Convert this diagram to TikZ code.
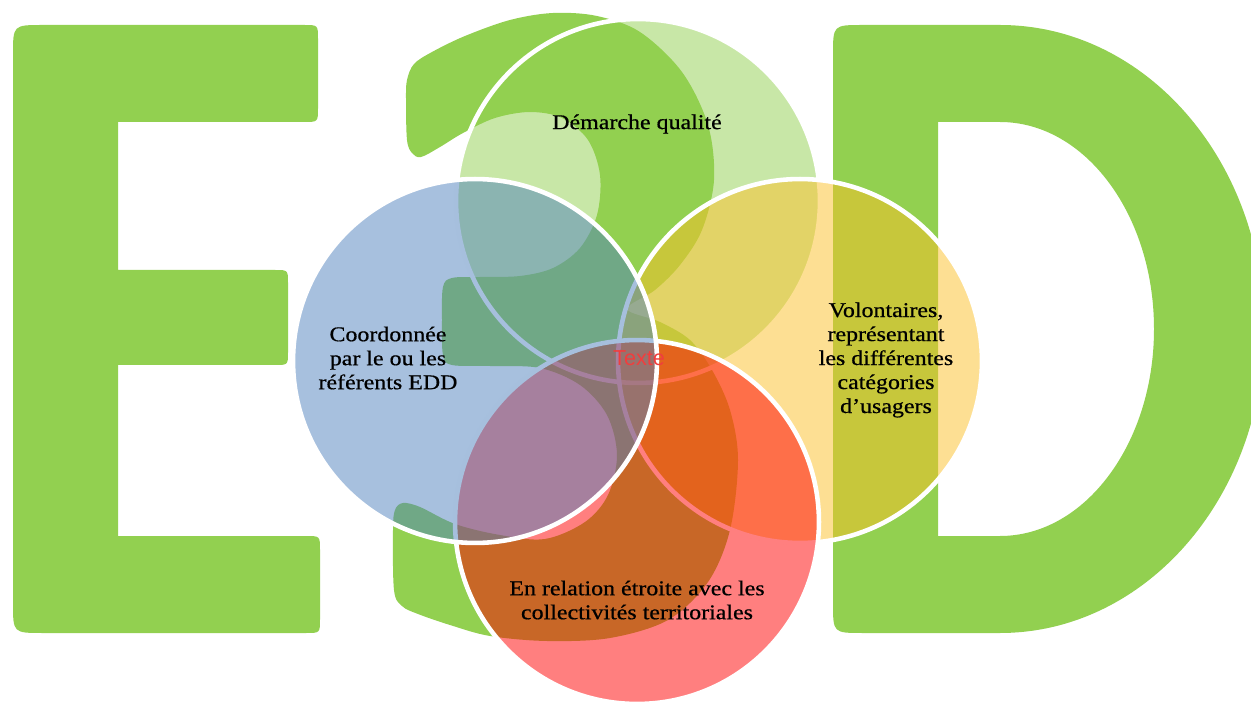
\documentclass[tikz,border=0pt]{standalone}
\usepackage{fontspec}
\newfontfamily\cambriaf[FakeStretch=1.14,FakeBold=0.6]{Liberation Serif}
\newfontfamily\arialf{Liberation Sans}
\definecolor{eddgreen}{HTML}{92D050}
\definecolor{vblue}{HTML}{4F81BD}
\definecolor{vyellow}{RGB}{252,192,40}
\definecolor{vred}{RGB}{255,0,0}
\definecolor{txtred}{RGB}{240,62,62}
\tikzset{
  letter/.style={fill=eddgreen, draw=none},
  venn/.style={circle, inner sep=0pt, minimum size=7.28cm, draw=white, line width=2.6pt, fill opacity=0.5},
  lbl/.style={font=\cambriaf\fontsize{11.95pt}{13.66pt}\selectfont, align=center, text=black, inner sep=0pt},
  centretext/.style={font=\arialf\fontsize{12.3pt}{14pt}\selectfont, text=txtred, inner sep=0pt}
}
\begin{document}
\begin{tikzpicture}[x=0.02cm, y=-0.02cm]
\useasboundingbox (0,0) rectangle (1251,702);
\clip (0,0) rectangle (1251,702);

% Letter E
\fill[letter] (13,55) .. controls (13,25) .. (43,25)
  -- (304,25) .. controls (318,25) .. (318,39)
  -- (318,108) .. controls (318,122) .. (304,122)
  -- (118,122) -- (118,270)
  -- (275,270) .. controls (288,270) .. (288,283)
  -- (288,352) .. controls (288,365) .. (275,365)
  -- (118,365) -- (118,536)
  -- (306,536) .. controls (320,536) .. (320,550)
  -- (320,619) .. controls (320,633) .. (306,633)
  -- (43,633) .. controls (13,633) .. (13,603)
  -- cycle;

% Digit 3
\fill[letter] plot[smooth cycle, tension=0.55] coordinates {
  (406,100) (407,140) (412,153) (421,157) (440,147) (463,133) (495,118)
  (530,112) (562,118) (588,140) (600,175) (597,215) (580,248) (553,268)
  (520,276) (480,277) (452,278) (443,287) (442,320) (443,355) (452,365)
  (490,366) (540,368) (580,385) (607,415) (617,455) (608,495) (585,522)
  (545,539) (500,535) (455,524) (420,507) (403,503) (395,510) (393,530)
  (394,590) (402,606) (418,614) (450,625) (490,636) (547,641) (610,638)
  (668,620) (708,582) (730,530) (738,460) (730,410) (712,370) (690,340)
  (660,322) (627,309) (655,290) (680,265) (702,230) (714,180) (708,125)
  (682,72) (640,32) (597,16) (553,13) (510,20) (465,36) (432,52)
  (414,64) (407,80)};

% Letter D
\fill[letter, even odd rule] (863,25) -- (1000,25)
  arc[start angle=-90, end angle=90, x radius=264, y radius=304]
  -- (863,633) .. controls (833,633) .. (833,603)
  -- (833,55) .. controls (833,25) .. (863,25) -- cycle
  (938,122) -- (1000,122)
  arc[start angle=-90, end angle=90, x radius=154, y radius=207]
  -- (938,536) -- cycle;

% Venn circles (drawing order: top, right, bottom, left)
\node[venn, fill=eddgreen] (ctop) at (638,201) {};
\node[venn, fill=vyellow] (cright) at (800,361) {};
\node[venn, fill=vred] (cbottom) at (637,522) {};
\node[venn, fill=vblue] (cleft) at (475,361) {};

% Labels
\node[lbl] (ttop) at (637,124) {Démarche qualité};
\node[lbl] (tleft) at (388,358) {Coordonnée\\par le ou les\\référents EDD};
\node[lbl] (tright) at (886,360) {Volontaires,\\représentant\\les différentes\\catégories\\d’usagers};
\node[lbl] (tbottom) at (637,600) {En relation étroite avec les\\collectivités territoriales};
\node[centretext] (tcentre) at (639,358) {Texte};
\end{tikzpicture}
\end{document}
